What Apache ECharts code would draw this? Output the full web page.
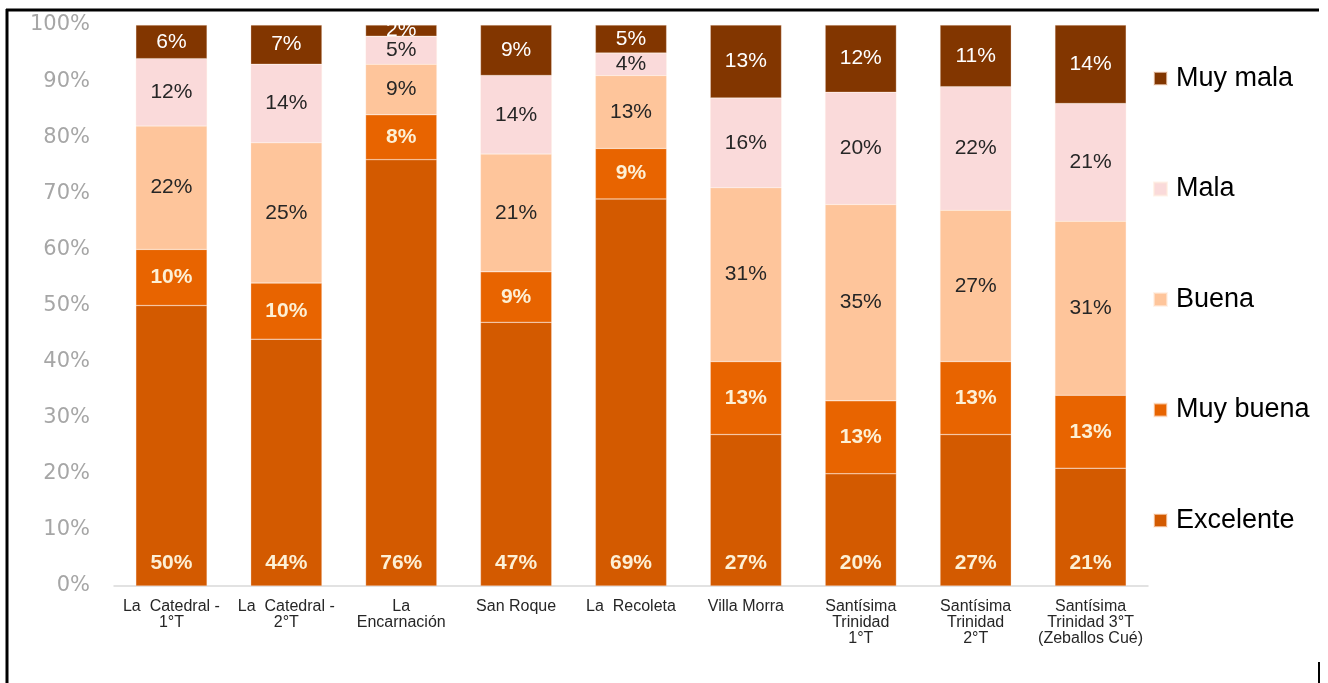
<!DOCTYPE html>
<html>
<head>
<meta charset="utf-8">
<script src="https://cdn.jsdelivr.net/npm/echarts@6/dist/echarts.min.js"></script>
<style>
  html, body { margin: 0; padding: 0; background: #fff; }
  #chart { width: 1328px; height: 683px; }
</style>
</head>
<body>
<div id="chart"></div>
<script>
const categories = [
  'La  Catedral -\n1°T',
  'La  Catedral -\n2°T',
  'La\nEncarnación',
  'San Roque',
  'La  Recoleta',
  'Villa Morra',
  'Santísima\nTrinidad\n1°T',
  'Santísima\nTrinidad\n2°T',
  'Santísima\nTrinidad 3°T\n(Zeballos Cué)'
]
const excelente = [50, 44, 76, 47, 69, 27, 20, 27, 21]
const muyBuena = [10, 10, 8, 9, 9, 13, 13, 13, 13]
const buena = [22, 25, 9, 21, 13, 31, 35, 27, 31]
const mala = [12, 14, 5, 14, 4, 16, 20, 22, 21]
const muyMala = [6, 7, 2, 9, 5, 13, 12, 11, 14]

const font = 'Liberation Sans, Arial, sans-serif'

function bar(name, data, color, label) {
  return {
    name: name,
    type: 'bar',
    stack: 'total',
    barWidth: '62%',
    data: data,
    itemStyle: { color: color, borderColor: 'rgba(255,235,220,0.6)', borderWidth: 0.5 },
    label: Object.assign({
      show: true,
      formatter: '{c}%',
      fontFamily: font,
      fontSize: 21
    }, label)
  }
}

const chart = echarts.init(document.getElementById('chart'))
chart.setOption({
  animation: false,
  grid: { left: 114, right: 180, top: 25, bottom: 97 },
  legend: {
    orient: 'vertical',
    left: 1153,
    top: 65,
    padding: 0,
    itemWidth: 13,
    itemHeight: 13,
    itemGap: 83.5,
    icon: 'rect',
    data: ['Muy mala', 'Mala', 'Buena', 'Muy buena', 'Excelente'],
    textStyle: { fontFamily: font, fontSize: 27, lineHeight: 26, color: '#000', padding: [0, 0, 0, 4] }
  },
  xAxis: {
    type: 'category',
    data: categories,
    axisLine: { lineStyle: { color: '#d9d9d9', width: 1.5 } },
    axisTick: { show: false },
    axisLabel: {
      interval: 0,
      margin: 13,
      fontFamily: 'Liberation Sans Narrow, Arial Narrow, ' + font,
      fontSize: 16,
      lineHeight: 16,
      color: '#262626'
    }
  },
  yAxis: {
    type: 'value',
    min: 0,
    max: 100,
    interval: 10,
    splitLine: { show: false },
    axisLine: { show: false },
    axisLabel: {
      formatter: '{value}%',
      margin: 24,
      fontFamily: 'DejaVu Sans, sans-serif',
      fontSize: 21,
      color: '#a6a6a6'
    }
  },
  series: [
    bar('Excelente', excelente, '#d35a00', { position: 'insideBottom', distance: 12, color: '#fdf0d5', fontWeight: 'bold' }),
    bar('Muy buena', muyBuena, '#e86400', { position: 'inside', color: '#fdf0d5', fontWeight: 'bold' }),
    bar('Buena', buena, '#fec59b', { position: 'inside', color: '#262626' }),
    bar('Mala', mala, '#fadada', { position: 'inside', color: '#262626' }),
    bar('Muy mala', muyMala, '#823600', { position: 'inside', color: '#ffffff' })
  ],
  graphic: [
    { type: 'line', shape: { x1: 6, y1: 10, x2: 1319, y2: 10 }, style: { stroke: '#000', lineWidth: 3 } },
    { type: 'line', shape: { x1: 7, y1: 9, x2: 7, y2: 683 }, style: { stroke: '#000', lineWidth: 3 } },
    { type: 'line', shape: { x1: 1319, y1: 662, x2: 1319, y2: 683 }, style: { stroke: '#000', lineWidth: 2 } }
  ]
})
window.addEventListener('resize', () => chart.resize())
</script>
</body>
</html>
